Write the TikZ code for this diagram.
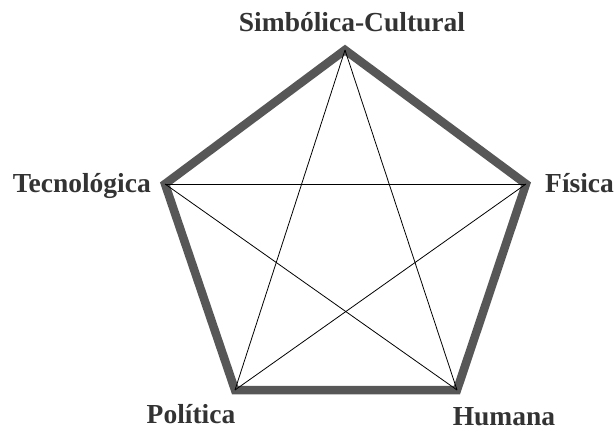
\documentclass[tikz,border=0pt]{standalone}
\usepackage{fontspec}
\setmainfont{Liberation Serif}
\definecolor{pentgray}{HTML}{575757}
\definecolor{labink}{HTML}{333333}

\begin{document}
\begin{tikzpicture}[x=1pt, y=-1pt, font=\bfseries\fontsize{27.5}{32}\selectfont, text=labink,
    rim/.style={draw=pentgray, line width=8.5pt, line join=miter},
    chord/.style={draw=black, line width=0.8pt},
    dimlabel/.style={inner sep=0pt, anchor=base},
  ]
  \useasboundingbox (0, 0) rectangle (615, 427);

  % corners of the pentagon
  \coordinate (sim) at (345, 50);
  \coordinate (fis) at (526, 184);
  \coordinate (hum) at (457, 390);
  \coordinate (pol) at (235, 390);
  \coordinate (tec) at (165, 184);

  % outer rim
  \draw[rim] (sim) -- (fis) -- (hum) -- (pol) -- (tec) -- cycle;

  % every corner joined to every other one
  \draw[chord] (sim) -- (pol);
  \draw[chord] (sim) -- (hum);
  \draw[chord] (tec) -- (fis);
  \draw[chord] (tec) -- (hum);
  \draw[chord] (fis) -- (pol);

  % dimension names
  \node[dimlabel] (simlab) at (352, 32) {Simbólica-Cultural};
  \node[dimlabel, anchor=base east] (teclab) at (151, 193) {Tecnológica};
  \node[dimlabel, anchor=base west] (fislab) at (545, 193) {Física};
  \node[dimlabel] (pollab) at (191, 423) {Política};
  \node[dimlabel] (humlab) at (504, 425) {Humana};
\end{tikzpicture}
\end{document}
